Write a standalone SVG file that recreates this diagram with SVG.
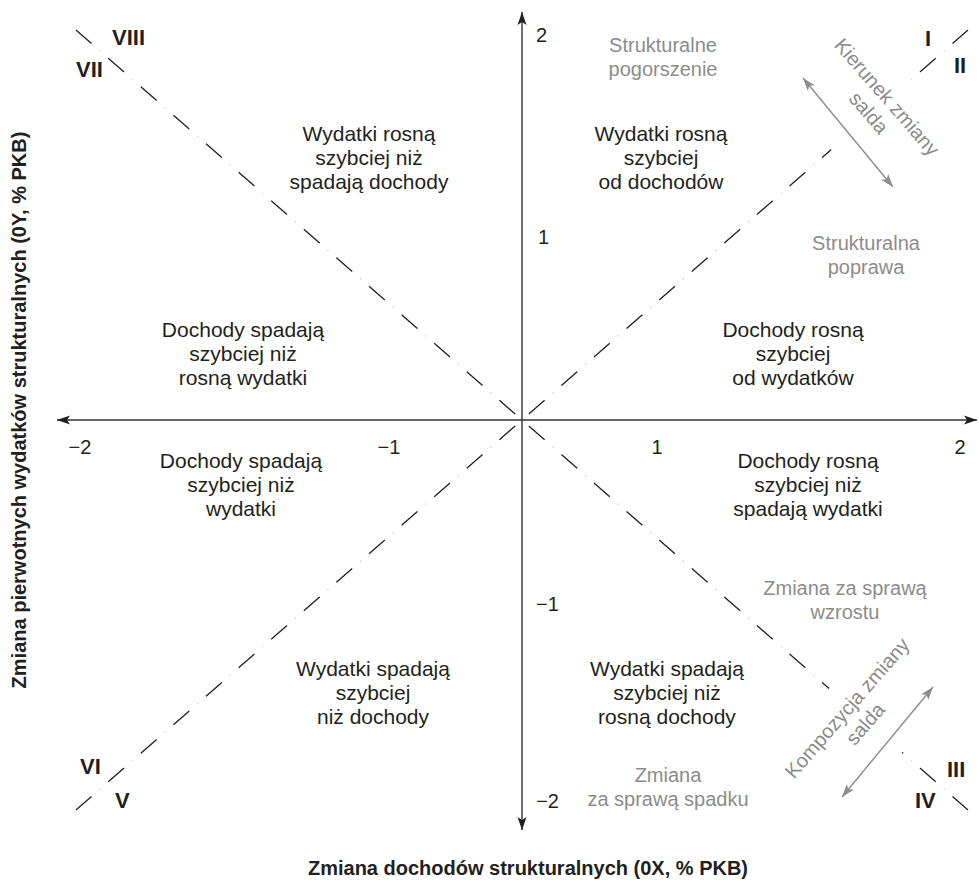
<svg xmlns="http://www.w3.org/2000/svg" width="979" height="880" viewBox="0 0 979 880">
<style>
.t{font-family:"Liberation Sans",Arial,sans-serif;font-size:21px;fill:#231f20;text-anchor:middle}
.g{font-family:"Liberation Sans",Arial,sans-serif;font-size:20px;fill:#8c8c8c;text-anchor:middle}
.n{font-family:"Liberation Sans",Arial,sans-serif;font-size:20px;fill:#231f20}
.r{font-family:"Liberation Sans",Arial,sans-serif;font-size:22px;font-weight:bold;fill:#231f20}
.ax{font-family:"Liberation Sans",Arial,sans-serif;font-size:20px;font-weight:bold;fill:#231f20;text-anchor:middle}
.axis{stroke:#333;stroke-width:1.4;fill:none}
.dash{stroke:#231f20;stroke-width:1.3;fill:none;stroke-dasharray:21 22.3}
.dot{stroke:#bbb;stroke-width:1.3;fill:none;stroke-dasharray:1 42.3;stroke-dashoffset:11.5}
.cut{stroke:#fff;stroke-width:6;fill:none}
.garr{stroke:#8c8c8c;stroke-width:1.4;fill:none}
</style>
<defs>
<marker id="ab" markerUnits="userSpaceOnUse" markerWidth="16" markerHeight="12" refX="14" refY="6" orient="auto-start-reverse" viewBox="0 0 16 12">
<path d="M14,6 L1,1.5 L4,6 L1,10.5 Z" fill="#231f20"/>
</marker>
<marker id="ag" markerUnits="userSpaceOnUse" markerWidth="16" markerHeight="12" refX="14" refY="6" orient="auto-start-reverse" viewBox="0 0 16 12">
<path d="M14,6 L1,1.5 L4,6 L1,10.5 Z" fill="#8c8c8c"/>
</marker>
</defs>
<g id="connectors">
<line class="axis" x1="522" y1="830" x2="522" y2="12" marker-end="url(#ab)" marker-start="url(#ab)"/>
<line class="axis" x1="57" y1="420" x2="977" y2="420" marker-end="url(#ab)" marker-start="url(#ab)"/>
<line class="dash" x1="515.2" y1="414.1" x2="76" y2="30"/>
<line class="dot" x1="515.2" y1="414.1" x2="76" y2="30"/>
<line class="dash" x1="528.8" y1="414.1" x2="968" y2="30"/>
<line class="dot" x1="528.8" y1="414.1" x2="968" y2="30"/>
<line class="dash" x1="515.2" y1="425.9" x2="76" y2="810"/>
<line class="dot" x1="515.2" y1="425.9" x2="76" y2="810"/>
<line class="dash" x1="528.8" y1="425.9" x2="968" y2="810"/>
<line class="dot" x1="528.8" y1="425.9" x2="968" y2="810"/>
<line class="cut" x1="831" y1="149.6" x2="911" y2="79.6"/>
<line class="cut" x1="829" y1="688.6" x2="902" y2="752.5"/>
<line class="garr" x1="803" y1="78" x2="893" y2="187" marker-end="url(#ag)" marker-start="url(#ag)"/>
<line class="garr" x1="842" y1="797" x2="933" y2="687" marker-end="url(#ag)" marker-start="url(#ag)"/>
</g>
<g id="ticks">
<text class="n" x="536" y="42">2</text>
<text class="n" x="538" y="244">1</text>
<text class="n" x="536" y="611">−1</text>
<text class="n" x="536" y="808">−2</text>
<text class="n" x="80" y="454" text-anchor="middle">−2</text>
<text class="n" x="389" y="454" text-anchor="middle">−1</text>
<text class="n" x="657" y="454" text-anchor="middle">1</text>
<text class="n" x="960" y="454" text-anchor="middle">2</text>
</g>
<g id="roman">
<text class="r" x="112" y="45">VIII</text>
<text class="r" x="76" y="77">VII</text>
<text class="r" x="925" y="46">I</text>
<text class="r" x="954" y="73">II</text>
<text class="r" x="947" y="777">III</text>
<text class="r" x="915" y="808">IV</text>
<text class="r" x="80" y="774">VI</text>
<text class="r" x="115" y="808">V</text>
</g>
<g id="q-tl"><text class="t" x="369" y="141">Wydatki rosną</text><text class="t" x="369" y="165">szybciej niż</text><text class="t" x="369" y="189">spadają dochody</text></g>
<g id="q-tr"><text class="t" x="661" y="141">Wydatki rosną</text><text class="t" x="661" y="165">szybciej</text><text class="t" x="661" y="189">od dochodów</text></g>
<g id="q-ml"><text class="t" x="243" y="337">Dochody spadają</text><text class="t" x="243" y="361">szybciej niż</text><text class="t" x="243" y="385">rosną wydatki</text></g>
<g id="q-mr"><text class="t" x="793" y="337">Dochody rosną</text><text class="t" x="793" y="361">szybciej</text><text class="t" x="793" y="385">od wydatków</text></g>
<g id="q-ll"><text class="t" x="241" y="468">Dochody spadają</text><text class="t" x="241" y="492">szybciej niż</text><text class="t" x="241" y="516">wydatki</text></g>
<g id="q-lr"><text class="t" x="808" y="468">Dochody rosną</text><text class="t" x="808" y="492">szybciej niż</text><text class="t" x="808" y="516">spadają wydatki</text></g>
<g id="q-bl"><text class="t" x="373" y="676">Wydatki spadają</text><text class="t" x="373" y="700">szybciej</text><text class="t" x="373" y="724">niż dochody</text></g>
<g id="q-br"><text class="t" x="667" y="676">Wydatki spadają</text><text class="t" x="667" y="700">szybciej niż</text><text class="t" x="667" y="724">rosną dochody</text></g>
<g id="g-pog"><text class="g" x="663" y="52">Strukturalne</text><text class="g" x="663" y="76">pogorszenie</text></g>
<g id="g-pop"><text class="g" x="866" y="250">Strukturalna</text><text class="g" x="866" y="274">poprawa</text></g>
<g id="g-wzr"><text class="g" x="845" y="595">Zmiana za sprawą</text><text class="g" x="845" y="619">wzrostu</text></g>
<g id="g-spa"><text class="g" x="668" y="782">Zmiana</text><text class="g" x="668" y="806">za sprawą spadku</text></g>
<g id="g-kier" transform="translate(887,97) rotate(49)"><text class="g" x="0" y="7">Kierunek zmiany</text><text class="g" x="0" y="31">salda</text></g>
<g id="g-komp" transform="translate(847,708) rotate(-49)"><text class="g" x="0" y="7">Kompozycja zmiany</text><text class="g" x="0" y="31">salda</text></g>
<g id="axis-titles">
<text class="ax" x="528" y="875">Zmiana dochodów strukturalnych (0X, % PKB)</text>
<text class="ax" transform="translate(26,410) rotate(-90)" x="0" y="0">Zmiana pierwotnych wydatków strukturalnych (0Y, % PKB)</text>
</g>
</svg>
